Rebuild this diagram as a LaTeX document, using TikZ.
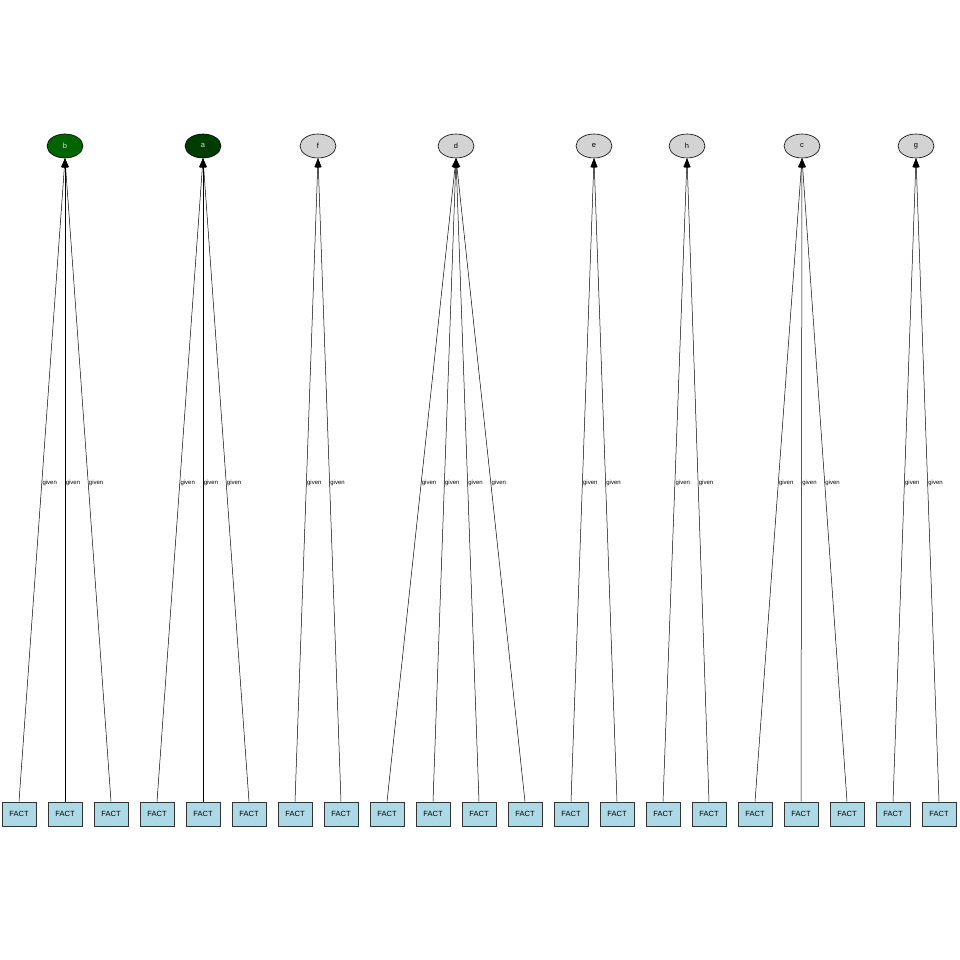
\documentclass[tikz,border=0pt]{standalone}
\usepackage{fontspec}
\setmainfont{Liberation Sans}
\usetikzlibrary{arrows.meta,shapes.geometric}
\definecolor{gA}{RGB}{0,60,0}
\definecolor{gB}{RGB}{0,100,0}
\definecolor{lgray}{RGB}{211,211,211}
\definecolor{lblue}{RGB}{173,216,230}
\tikzset{
  goal/.style={ellipse, draw=black, line width=0.6pt, minimum width=36pt, minimum height=24pt, inner sep=0pt, font=\fontsize{7.5}{8}\selectfont, fill=lgray},
  fact/.style={rectangle, draw=black!80, line width=0.6pt, minimum width=34pt, minimum height=24pt, inner sep=0pt, fill=lblue, font=\fontsize{7.5}{8}\selectfont},
  edge/.style={draw=black, line width=0.5pt, -{Triangle[length=9pt,width=6.5pt]}},
  lab/.style={font=\fontsize{6}{6}\selectfont, anchor=west, inner sep=0.5pt}
}
\begin{document}
\begin{tikzpicture}[x=1pt,y=1pt]
\useasboundingbox (0,0) rectangle (960,-960);
\node[goal, fill=gB, text=white!85!gB] (b) at (65,-146) {b};
\node[goal, fill=gA, text=white!85!gA] (a) at (203,-146) {a};
\node[goal] (f) at (318,-146) {f};
\node[goal] (d) at (456,-146) {d};
\node[goal] (e) at (594,-146) {e};
\node[goal] (h) at (687,-146) {h};
\node[goal] (c) at (802,-146) {c};
\node[goal] (g) at (916,-146) {g};
\foreach \i in {1,...,21} {
  \node[fact] (F\i) at ({19+46*(\i-1)},-814) {FACT};
}
\foreach \i/\t in {1/b,2/b,3/b,4/a,5/a,6/a,7/f,8/f,9/d,10/d,11/d,12/d,13/e,14/e,15/h,16/h,17/c,18/c,19/c,20/g,21/g} {
  \draw[edge] (F\i.north) -- node[lab, pos=0.495]{given} (\t.south);
}
\end{tikzpicture}
\end{document}
